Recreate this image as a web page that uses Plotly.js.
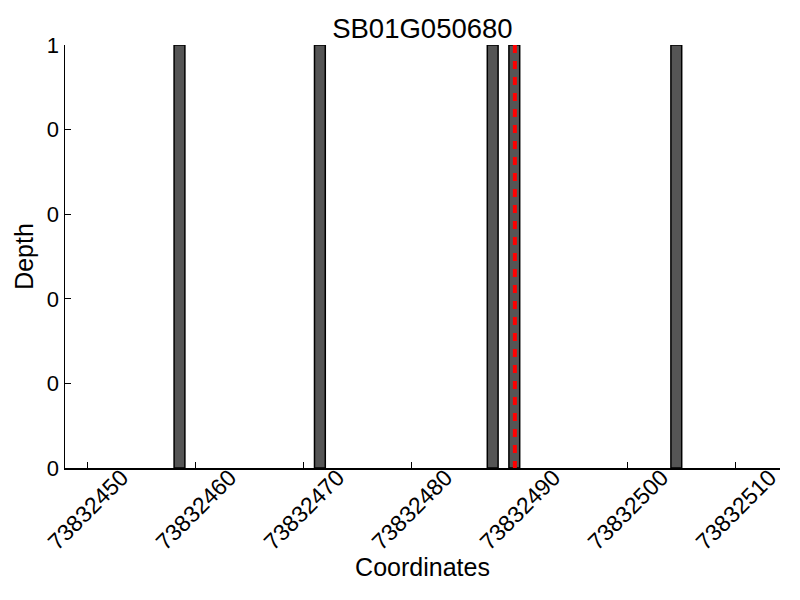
<!DOCTYPE html>
<html>
<head>
<meta charset="utf-8">
<script src="https://cdn.plot.ly/plotly-3.0.1.min.js"></script>
<style>html,body{margin:0;padding:0;background:#fff;}#chart{width:800px;height:600px;}</style>
</head>
<body>
<div id="chart"></div>
<script>
// Data
const coords = [73832458, 73832471, 73832487, 73832489, 73832504];
const depth = [1, 1, 1, 1, 1];
const markerPos = [73832489.55];
const xTickVals = [73832450, 73832460, 73832470, 73832480, 73832490, 73832500, 73832510];
const yTickVals = [0, 0.2, 0.4, 0.6, 0.8, 1];
const yTickText = ['0', '0', '0', '0', '0', '1'];

const font = "Liberation Sans, Arial, sans-serif";

const trace = {
  type: 'bar',
  x: coords,
  y: depth,
  width: 1,
  offset: 0,
  marker: {color: '#555555', line: {color: '#000000', width: 1.5}},
  hoverinfo: 'x+y'
};

const shapes = markerPos.map(p => ({
  type: 'line', xref: 'x', yref: 'y', layer: 'above',
  x0: p, x1: p, y0: 1, y1: 0,
  line: {color: '#ff0000', width: 4, dash: '8px,8px'}
}));

const layout = {
  width: 800, height: 600,
  margin: {l: 65, r: 20, t: 45, b: 132},
  paper_bgcolor: '#ffffff', plot_bgcolor: '#ffffff',
  showlegend: false,
  font: {family: font, color: '#000000', size: 22},
  title: {text: 'SB01G050680', font: {family: font, size: 27.5, color: '#000'}, x: 0.528, xanchor: 'center', y: 0.953, yanchor: 'middle'},
  xaxis: {
    range: [73832447.9, 73832514.1],
    tickvals: xTickVals,
    showticklabels: false,
    ticks: 'inside', ticklen: 6, tickwidth: 1, tickcolor: '#000',
    showline: true, linecolor: '#000', linewidth: 1.5,
    showgrid: false, zeroline: false,
    title: {text: 'Coordinates', font: {family: font, size: 25}, standoff: 90}
  },
  yaxis: {
    range: [0, 1],
    tickvals: yTickVals,
    ticktext: yTickText,
    ticks: 'inside', ticklen: 6, tickwidth: 1, tickcolor: '#000',
    showline: true, linecolor: '#000', linewidth: 1.5,
    showgrid: false, zeroline: false,
    tickfont: {family: font, size: 22},
    title: {text: 'Depth', font: {family: font, size: 25}, standoff: 6}
  },
  shapes: shapes,
  // x tick labels centred on their ticks and rotated 45 degrees, as in the reference
  annotations: xTickVals.map(v => ({
    x: v, xref: 'x', y: 0, yref: 'y', yshift: -42,
    text: String(v), textangle: -45, showarrow: false,
    xanchor: 'center', yanchor: 'middle',
    font: {family: font, size: 23, color: '#000'}
  }))
};

Plotly.newPlot('chart', [trace], layout, {displayModeBar: false, staticPlot: true});
</script>
</body>
</html>
